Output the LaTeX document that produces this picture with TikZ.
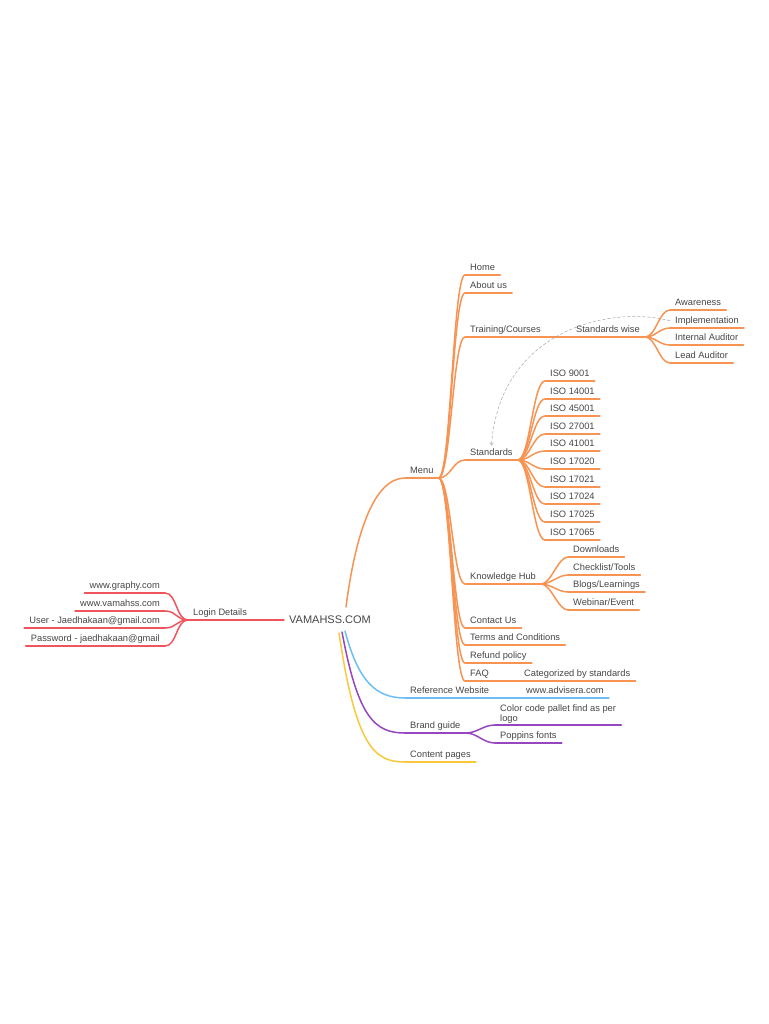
\documentclass[tikz,border=0pt]{standalone}
\usepackage{fontspec}
\setmainfont{Liberation Sans}
\usepackage{tikz}
\usetikzlibrary{arrows.meta,calc}

\definecolor{mmorange}{RGB}{247,148,84}
\definecolor{mmred}{RGB}{240,85,95}
\definecolor{mmblue}{RGB}{110,190,245}
\definecolor{mmpurple}{RGB}{150,70,190}
\definecolor{mmyellow}{RGB}{250,200,60}
\definecolor{mmtext}{RGB}{70,70,70}

\tikzset{
  topic/.style={
    anchor = south west,
    font = \fontsize{9.3}{10}\selectfont,
    text = mmtext,
    inner xsep = 5pt,
    inner ysep = 2.5pt,
    text height = 7pt,
    text depth = 2pt
  },
  ltopic/.style={
    topic,
    anchor = south east
  },
  root/.style={
    font = \fontsize{11}{12}\selectfont,
    text = mmtext,
    inner sep = 5pt
  },
  branch/.style={
    line width = 1.5pt,
    line cap = round,
    draw = #1
  },
  relation/.style={
    gray!70,
    line width = 0.5pt,
    densely dashed,
    -{Straight Barb[length=2.5pt,width=3.5pt]}
  }
}

\begin{document}
\begin{tikzpicture}[x=1pt,y=-1pt]
    \fill[white] (0,0) rectangle (768,1024);
    \useasboundingbox (0,0) rectangle (768,1024);

    \node[root] (center) at (330,620) {VAMAHSS.COM};
    \coordinate (c-up) at (346,607);
    \coordinate (c-blue) at (345,631);
    \coordinate (c-purple) at (342,632);
    \coordinate (c-yellow) at (339,633);

    % menu
    \node[topic] (menu) at (405,478) {Menu};
    \node[topic] (home) at (465,275) {Home};
    \node[topic] (about) at (465,293) {About us};
    \node[topic] (training) at (465,337) {Training/Courses};
    \node[topic] (stdwise) at (571,337) {Standards wise};
    \node[topic] (aware) at (670,310) {Awareness};
    \node[topic] (impl) at (670,328) {Implementation};
    \node[topic] (internal) at (670,345) {Internal Auditor};
    \node[topic] (lead) at (670,363) {Lead Auditor};
    \node[topic] (standards) at (465,460) {Standards};
    \node[topic] (iso1) at (545,381) {ISO 9001};
    \node[topic] (iso2) at (545,399) {ISO 14001};
    \node[topic] (iso3) at (545,416) {ISO 45001};
    \node[topic] (iso4) at (545,434) {ISO 27001};
    \node[topic] (iso5) at (545,451) {ISO 41001};
    \node[topic] (iso6) at (545,469) {ISO 17020};
    \node[topic] (iso7) at (545,487) {ISO 17021};
    \node[topic] (iso8) at (545,504) {ISO 17024};
    \node[topic] (iso9) at (545,522) {ISO 17025};
    \node[topic] (iso10) at (545,540) {ISO 17065};
    \node[topic] (khub) at (465,584) {Knowledge Hub};
    \node[topic] (downloads) at (568,557) {Downloads};
    \node[topic] (checklist) at (568,575) {Checklist/Tools};
    \node[topic] (blogs) at (568,592) {Blogs/Learnings};
    \node[topic] (webinar) at (568,610) {Webinar/Event};
    \node[topic] (contact) at (465,628) {Contact Us};
    \node[topic] (terms) at (465,645) {Terms and Conditions};
    \node[topic] (refund) at (465,663) {Refund policy};
    \node[topic] (faq) at (465,681) {FAQ};
    \node[topic] (categ) at (519,681) {Categorized by standards};

    % other branches
    \node[topic] (refweb) at (405,698) {Reference Website};
    \node[topic] (advisera) at (521,698) {www.advisera.com};
    \node[topic] (brand) at (405,733) {Brand guide};
    \node[topic, align=left, text depth=1pt] (colorcode) at (495,725) {Color code pallet find as per\\logo};
    \node[topic] (poppins) at (495,743) {Poppins fonts};
    \node[topic] (content) at (405,762) {Content pages};

    % login
    \node[topic] (login) at (188,620) {Login Details};
    \node[ltopic] (graphy) at (165,593) {www.graphy.com};
    \node[ltopic] (vamahss) at (165,611) {www.vamahss.com};
    \node[ltopic] (user) at (165,628) {User - Jaedhakaan@gmail.com};
    \node[ltopic] (password) at (165,646) {Password - jaedhakaan@gmail};

    % underlines
    \foreach \n in {menu,home,about,training,stdwise,aware,impl,internal,lead,standards,
                    iso1,iso2,iso3,iso4,iso5,iso6,iso7,iso8,iso9,iso10,
                    khub,downloads,checklist,blogs,webinar,contact,terms,refund,faq,categ}
        \draw[branch=mmorange] (\n.south west) -- (\n.south east);
    \foreach \n in {login,graphy,vamahss,user,password}
        \draw[branch=mmred] (\n.south west) -- (\n.south east);
    \foreach \n in {refweb,advisera}
        \draw[branch=mmblue] (\n.south west) -- (\n.south east);
    \foreach \n in {brand,colorcode,poppins}
        \draw[branch=mmpurple] (\n.south west) -- (\n.south east);
    \draw[branch=mmyellow] (content.south west) -- (content.south east);

    % connectors
    \draw[branch=mmorange] (c-up) .. controls (356,530) and (375,478) .. (menu.south west);
    \foreach \n in {home,about,training,standards,khub,contact,terms,refund,faq}
        \draw[branch=mmorange] (menu.south east) .. controls +(12,0) and +(-12,0) .. (\n.south west);
    \draw[branch=mmorange] (training.south east) -- (stdwise.south west);
    \foreach \n in {aware,impl,internal,lead}
        \draw[branch=mmorange] (stdwise.south east) .. controls +(11,0) and +(-11,0) .. (\n.south west);
    \foreach \n in {iso1,iso2,iso3,iso4,iso5,iso6,iso7,iso8,iso9,iso10}
        \draw[branch=mmorange] (standards.south east) .. controls +(12,0) and +(-12,0) .. (\n.south west);
    \foreach \n in {downloads,checklist,blogs,webinar}
        \draw[branch=mmorange] (khub.south east) .. controls +(10,0) and +(-10,0) .. (\n.south west);
    \draw[branch=mmorange] (faq.south east) -- (categ.south west);

    \draw[branch=mmred] (center.west) -- (login.south east);
    \foreach \n in {graphy,vamahss,user,password}
        \draw[branch=mmred] (login.south west) .. controls +(-12,0) and +(12,0) .. (\n.south east);

    \draw[branch=mmblue] (c-blue) .. controls (358,680) and (375,698) .. (refweb.south west);
    \draw[branch=mmblue] (refweb.south east) -- (advisera.south west);
    \draw[branch=mmpurple] (c-purple) .. controls (358,718) and (375,733) .. (brand.south west);
    \foreach \n in {colorcode,poppins}
        \draw[branch=mmpurple] (brand.south east) .. controls +(12,0) and +(-12,0) .. (\n.south west);
    \draw[branch=mmyellow] (c-yellow) .. controls (356,748) and (375,762) .. (content.south west);

    \draw[relation] (impl.west) .. controls (610,305) and (500,330) .. (standards.north);
\end{tikzpicture}
\end{document}
